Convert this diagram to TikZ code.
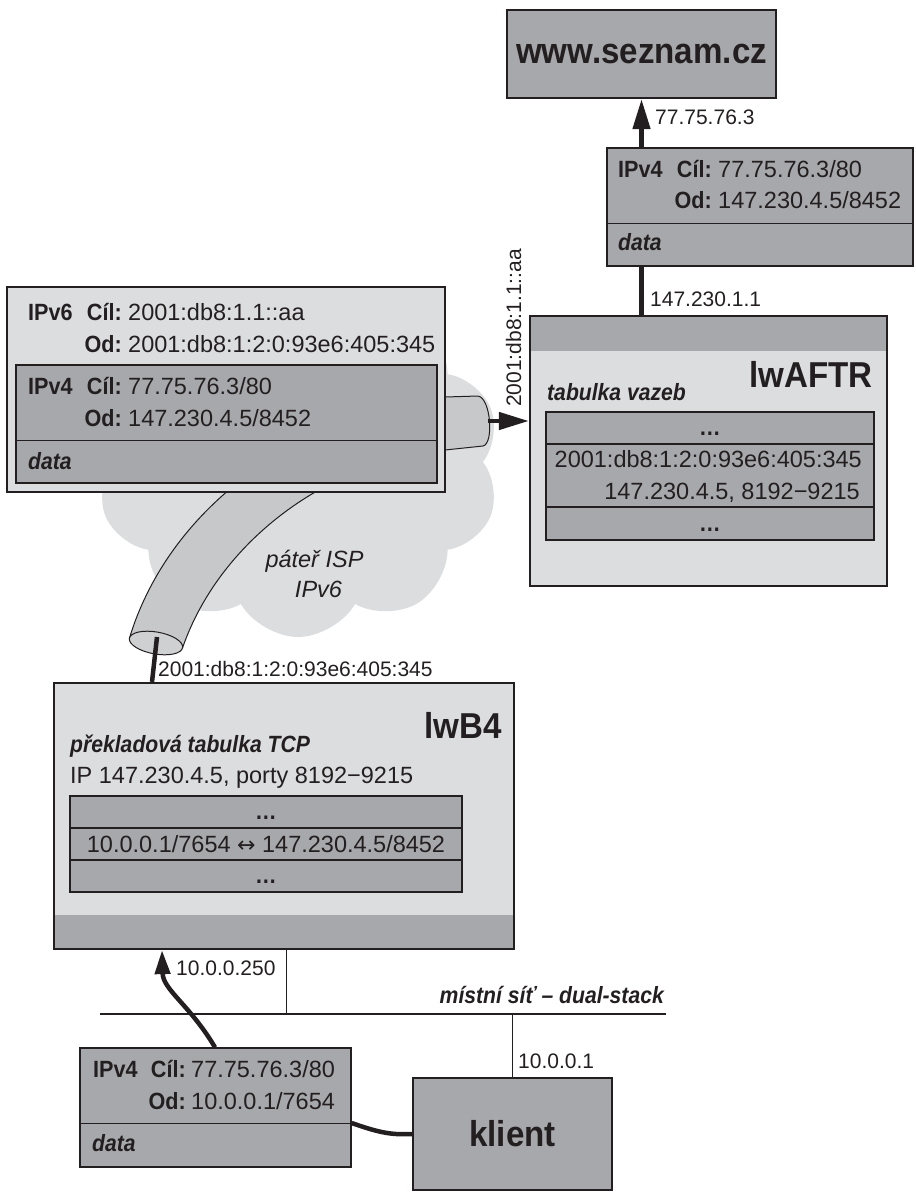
\documentclass[tikz,border=0pt]{standalone}
\usepackage{fontspec}
\setmainfont{Liberation Sans}[BoldFeatures={FakeStretch=0.92},BoldItalicFeatures={FakeStretch=0.9}]
\newfontfamily\symfont{DejaVu Sans}
\usetikzlibrary{arrows.meta,shapes.symbols}
\definecolor{ink}{RGB}{35,31,32}
\definecolor{midgray}{RGB}{167,168,171}
\definecolor{lightgray}{RGB}{220,221,223}
\definecolor{tubegray}{RGB}{199,200,202}
\newcommand{\txtsize}{\fontsize{23.5}{30}\selectfont}
\newcommand{\lblsize}{\fontsize{21}{26}\selectfont}
\newcommand{\titlesize}{\fontsize{36}{40}\selectfont}

\begin{document}
\begin{tikzpicture}[x=1pt,y=-1pt,
  lbl/.style={inner sep=0pt,text=ink,font=\lblsize},
  tx/.style={inner sep=0pt,text=ink,font=\txtsize},
  bl/.style={inner sep=0pt,text=ink,font=\txtsize\bfseries},
  bil/.style={inner sep=0pt,text=ink,font=\txtsize\bfseries\itshape},
  il/.style={inner sep=0pt,text=ink,font=\txtsize\itshape},
  title/.style={inner sep=0pt,text=ink,font=\titlesize\bfseries},
  hostbox/.style={draw=ink,line width=2.2pt,fill=midgray,inner sep=0pt},
  devbox/.style={draw=ink,line width=2.2pt,fill=lightgray,inner sep=0pt},
  pkt/.style={draw=ink,line width=1.3pt,fill=midgray,inner sep=0pt},
  pktouter/.style={draw=ink,line width=1.3pt,fill=lightgray,inner sep=0pt},
  row/.style={draw=ink,line width=1.3pt,fill=midgray,inner sep=0pt},
  divider/.style={draw=ink,line width=1.3pt},
  wire/.style={draw=ink,line width=4.5pt},
  thinwire/.style={draw=ink,line width=1pt},
  lanwire/.style={draw=ink,line width=2pt},
  tip/.style={-{Triangle[length=30pt,width=17pt]}},
  smalltip/.style={-{Triangle[length=24pt,width=15pt]}},
  tubeline/.style={draw=ink,line width=1pt,fill=tubegray},
]
\useasboundingbox (0,0) rectangle (916,1192);

% ---------- IPv6 backbone cloud and tunnel ----------
\node[cloud, cloud puffs=10, cloud puff arc=120, cloud ignores aspect,
      fill=lightgray, minimum width=405pt, minimum height=350pt] (backbone) at (298,462) {};

\path[tubeline] (129.4,638.3) .. controls (165,520) and (280,420) .. (445,397)
  -- (478,396) .. controls (491,398) and (494,444) .. (483,446)
  -- (445,450) .. controls (330,460) and (220,540) .. (182.6,647.7) -- cycle;

\node[il,anchor=base] (cloudNameA) at (314.5,567) {páteř ISP};
\node[il,anchor=base] (cloudNameB) at (318.5,597) {IPv6};

% ---------- encapsulated packet (IPv6 around IPv4) ----------
\node[pktouter, minimum width=438pt, minimum height=205pt] (pktSix) at (226,389.5) {};
\node[pkt, minimum width=421pt, minimum height=118pt] (pktSixIn) at (226.5,424) {};
\draw[divider] ([yshift=43pt]pktSixIn.south west) -- ([yshift=43pt]pktSixIn.south east);

\node[bl,anchor=base west] (sixHdr) at (28,320) {IPv6};
\node[bl,anchor=base east] (sixDstK) at (122,320) {Cíl:};
\node[tx,anchor=base west] (sixDstV) at (128,320) {2001:db8:1.1::aa};
\node[bl,anchor=base east] (sixSrcK) at (122,352) {Od:};
\node[tx,anchor=base west] (sixSrcV) at (128,352) {2001:db8:1:2:0:93e6:405:345};
\node[bl,anchor=base west] (sixInHdr) at (28,394) {IPv4};
\node[bl,anchor=base east] (sixInDstK) at (122,394) {Cíl:};
\node[tx,anchor=base west] (sixInDstV) at (128,394) {77.75.76.3/80};
\node[bl,anchor=base east] (sixInSrcK) at (122,426) {Od:};
\node[tx,anchor=base west] (sixInSrcV) at (128,426) {147.230.4.5/8452};
\node[bil,anchor=base west] (sixData) at (28,469) {data};

% tunnel mouth at the lwB4 side
\draw[draw=ink,line width=1pt,fill=tubegray!85!white,rotate around={-10:(156,643)}]
  (156,643) ellipse [x radius=27pt, y radius=11pt];

% ---------- server ----------
\node[hostbox, minimum width=269pt, minimum height=88pt] (seznam) at (641.5,54) {};
\node[title] (seznamName) at (seznam.center) {www.seznam.cz};

% ---------- IPv4 packet on the Internet side ----------
\node[pkt, minimum width=306pt, minimum height=118pt] (pktTop) at (760,207) {};
\draw[divider] ([yshift=43pt]pktTop.south west) -- ([yshift=43pt]pktTop.south east);
\node[bl,anchor=base west] (topHdr) at (618,177) {IPv4};
\node[bl,anchor=base east] (topDstK) at (712,177) {Cíl:};
\node[tx,anchor=base west] (topDstV) at (718,177) {77.75.76.3/80};
\node[bl,anchor=base east] (topSrcK) at (712,208) {Od:};
\node[tx,anchor=base west] (topSrcV) at (718,208) {147.230.4.5/8452};
\node[bil,anchor=base west] (topData) at (618,250) {data};

% ---------- lwAFTR ----------
\node[devbox, minimum width=357pt, minimum height=270pt,
      path picture={\fill[midgray] (path picture bounding box.north west)
        rectangle ([yshift=-35pt]path picture bounding box.north east);}]
      (lwaftr) at (708.5,451) {};
\node[title,anchor=base east] (lwaftrName) at (873,387) {lwAFTR};
\node[bil,anchor=base west] (aftrTabName) at (547,400) {tabulka vazeb};
\node[row, minimum width=328pt, minimum height=32pt] (aftrRowA) at (710,428) {};
\node[row, minimum width=328pt, minimum height=63pt] (aftrRowB) at (710,475.5) {};
\node[row, minimum width=328pt, minimum height=33pt] (aftrRowC) at (710,523.5) {};
\node[tx,anchor=base] (aftrDotsA) at (710,435) {\textbf{…}};
\node[tx,anchor=base east] (aftrBindA) at (862,467) {2001:db8:1:2:0:93e6:405:345};
\node[tx,anchor=base east] (aftrBindB) at (860,499) {147.230.4.5, 8192−9215};
\node[tx,anchor=base] (aftrDotsC) at (710,531) {\textbf{…}};

% ---------- lwB4 ----------
\node[devbox, minimum width=460pt, minimum height=266pt,
      path picture={\fill[midgray] (path picture bounding box.south west)
        rectangle ([yshift=34pt]path picture bounding box.south east);}]
      (lwb4) at (284,816) {};
\node[title,anchor=base east] (lwbName) at (502,738) {lwB4};
\node[bil,anchor=base west] (b4TabName) at (70,752) {překladová tabulka TCP};
\node[tx,anchor=base west] (b4Pool) at (70,783) {IP 147.230.4.5, porty 8192−9215};
\node[row, minimum width=392pt, minimum height=32pt] (b4RowA) at (266,812) {};
\node[row, minimum width=392pt, minimum height=32pt] (b4RowB) at (266,844) {};
\node[row, minimum width=392pt, minimum height=32pt] (b4RowC) at (266,876) {};
\node[tx,anchor=base] (b4DotsA) at (266,819) {\textbf{…}};
\node[tx,anchor=base] (b4Map) at (266,852) {10.0.0.1/7654 {\symfont\fontsize{22}{26}\selectfont ↔} 147.230.4.5/8452};
\node[tx,anchor=base] (b4DotsC) at (266,883) {\textbf{…}};

% ---------- client and its packet ----------
\node[hostbox, minimum width=199pt, minimum height=112pt] (klient) at (512.5,1134) {};
\node[title] (klientName) at (klient.center) {klient};

\node[pkt, minimum width=271pt, minimum height=119pt] (pktBot) at (215.5,1107.5) {};
\draw[divider] ([yshift=44pt]pktBot.south west) -- ([yshift=44pt]pktBot.south east);
\node[bl,anchor=base west] (botHdr) at (93,1077) {IPv4};
\node[bl,anchor=base east] (botDstK) at (186,1077) {Cíl:};
\node[tx,anchor=base west] (botDstV) at (191,1077) {77.75.76.3/80};
\node[bl,anchor=base east] (botSrcK) at (186,1109) {Od:};
\node[tx,anchor=base west] (botSrcV) at (191,1109) {10.0.0.1/7654};
\node[bil,anchor=base west] (botData) at (92,1151) {data};

% ---------- connectors ----------
\draw[wire,tip] (pktTop.north -| seznam.south) -- (seznam.south);
\node[lbl,anchor=base west] (lblSeznamIP) at (655,124) {77.75.76.3};

\draw[wire] (pktTop.south -| seznam.south) -- (lwaftr.north -| seznam.south);
\node[lbl,anchor=base west] (lblAftrFour) at (650,306) {147.230.1.1};

\coordinate (tubeEnd) at (488,421);
\draw[wire,tip] (tubeEnd) -- (tubeEnd -| lwaftr.west);
\node[lbl,anchor=base west,rotate=90] (lblAftrSix) at (521,407) {2001:db8:1.1::aa};

\coordinate (tubeMouth) at (157,637);
\coordinate (sixPort) at (152,683);
\draw[wire] (tubeMouth) -- (sixPort |- lwb4.north);
\node[lbl,anchor=base west] (lblB4Six) at (158,676) {2001:db8:1:2:0:93e6:405:345};

% local network segment
\coordinate (lanL) at (100,1014);
\coordinate (lanR) at (666,1014);
\coordinate (lanTap) at (286,1014);
\draw[lanwire] (lanL) -- (lanR);
\draw[thinwire] (lanTap |- lwb4.south) -- (lanTap);
\draw[thinwire] (klient.north |- lanL) -- (klient.north);
\node[bil,anchor=base east] (lanName) at (664,1003) {místní síť – dual-stack};
\node[lbl,anchor=base west] (lblB4Four) at (176,975) {10.0.0.250};
\node[lbl,anchor=base west] (lblKlientIP) at (518,1068) {10.0.0.1};

% packet path from the client up to lwB4
\coordinate (fourSrc) at (215,0);
\coordinate (fourDst) at (162,0);
\draw[wire,smalltip] (fourSrc |- pktBot.north) .. controls (190,1005) and (163,990) .. (fourDst |- lwb4.south);
\draw[wire] ([yshift=-15.5pt]pktBot.east) .. controls (380,1133) and (392,1135) .. (klient.west);

\end{tikzpicture}
\end{document}
